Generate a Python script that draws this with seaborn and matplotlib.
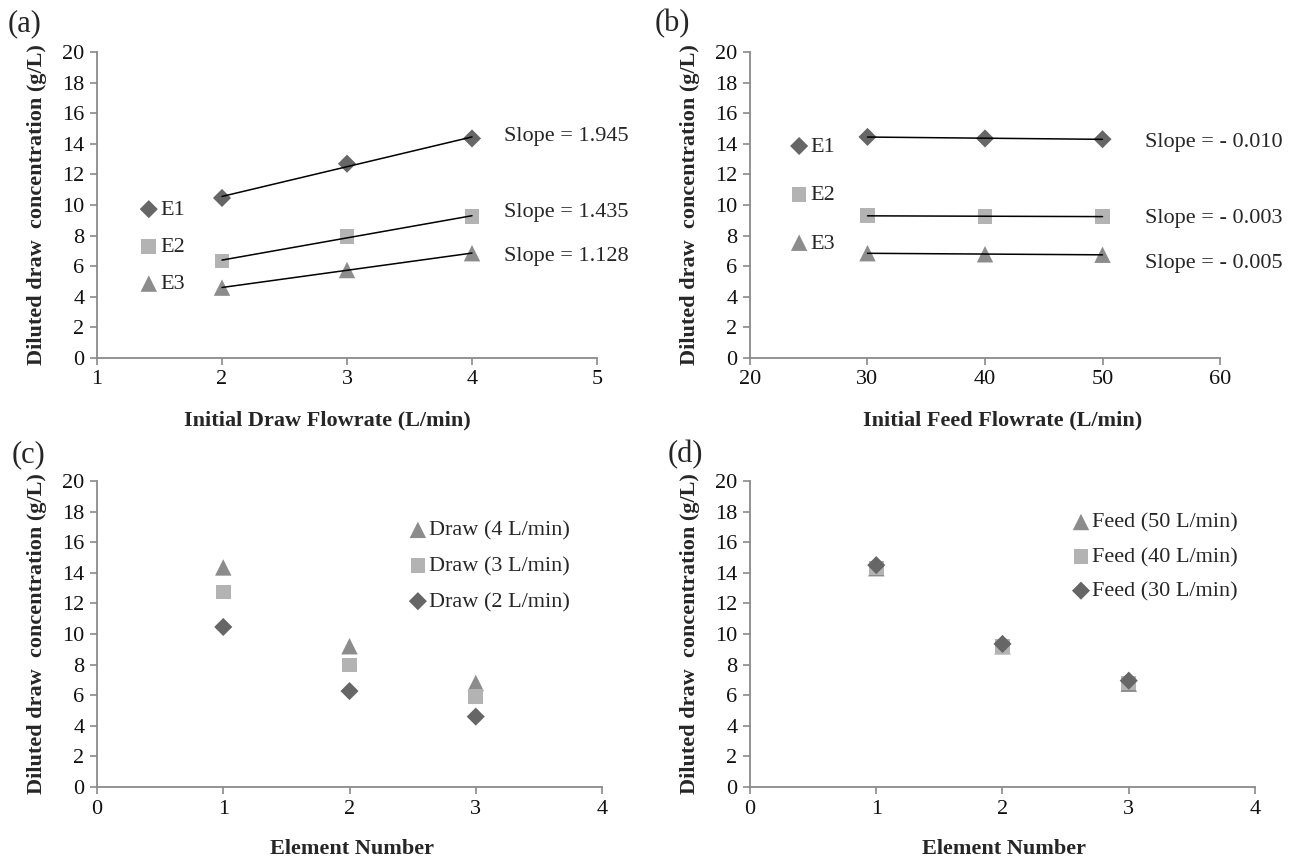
import matplotlib
matplotlib.use("Agg")
import matplotlib.pyplot as plt
import seaborn as sns

# ---- data ----
draw_flow = [2, 3, 4]
a_E1 = [10.46, 12.7, 14.35]
a_E2 = [6.35, 7.95, 9.25]
a_E3 = [4.6, 5.75, 6.85]
a_slopes = ["Slope = 1.945", "Slope = 1.435", "Slope = 1.128"]

feed_flow = [30, 40, 50]
b_E1 = [14.45, 14.35, 14.3]
b_E2 = [9.3, 9.25, 9.25]
b_E3 = [6.85, 6.78, 6.75]
b_slopes = ["Slope = - 0.010", "Slope = - 0.003", "Slope = - 0.005"]

element = [1, 2, 3]
c_draw4 = [14.35, 9.2, 6.8]
c_draw3 = [12.75, 7.97, 5.9]
c_draw2 = [10.46, 6.27, 4.6]
c_labels = ["Draw (4 L/min)", "Draw (3 L/min)", "Draw (2 L/min)"]

d_feed50 = [14.3, 9.2, 6.75]
d_feed40 = [14.3, 9.2, 6.8]
d_feed30 = [14.5, 9.35, 6.95]
d_labels = ["Feed (50 L/min)", "Feed (40 L/min)", "Feed (30 L/min)"]

yticks = list(range(0, 21, 2))

# ---- style ----
sns.set_theme(style="white")
plt.rcParams["font.family"] = ["Liberation Serif", "DejaVu Serif"]

C_DIA = "#666666"
C_SQ = "#b3b3b3"
C_TRI = "#8c8c8c"
SPINE = "#8a8a8a"
MK = {"D": dict(marker="D", s=85, color=C_DIA),
      "s": dict(marker="s", s=110, color=C_SQ),
      "^": dict(marker="^", s=140, color=C_TRI)}

fig = plt.figure(figsize=(13, 8.6), dpi=100)
W, H = 1300, 860


def make_ax(l, r, t, b):
    return fig.add_axes([l / W, 1 - b / H, (r - l) / W, (b - t) / H])


axA = make_ax(97, 597, 52, 358)
axB = make_ax(750, 1220, 52, 358)
axC = make_ax(97, 602, 481, 787)
axD = make_ax(750, 1255, 481, 787)


def style(ax, xlim, xticks, xlabel, xl_x):
    ax.set_xlim(*xlim)
    ax.set_ylim(0, 20)
    ax.set_xticks(xticks)
    ax.set_yticks(yticks)
    for s in ["top", "right"]:
        ax.spines[s].set_visible(False)
    for s in ["left", "bottom"]:
        ax.spines[s].set_color(SPINE)
        ax.spines[s].set_linewidth(1.3)
    ax.tick_params(axis="both", which="major", direction="out", length=5,
                   width=1.2, color=SPINE, labelsize=16, labelcolor="#111111",
                   left=True, bottom=True, pad=4)
    ax.set_xlabel(xlabel, fontsize=16, fontweight="bold")
    ax.set_ylabel("Diluted draw  concentration (g/L)", fontsize=16,
                  fontweight="bold")
    wpx = ax.get_position().width * W
    ax.xaxis.set_label_coords(xl_x, -0.17)
    ax.yaxis.set_label_coords(-50.0 / wpx, 0.5)
    ax.grid(False)


def scatter(ax, x, y, mk, label):
    sns.scatterplot(x=x, y=y, ax=ax, edgecolor="none", linewidth=0,
                    label=label, zorder=3, **MK[mk])


def fit(ax, x, y):
    sns.regplot(x=x, y=y, ax=ax, scatter=False, ci=None, truncate=True,
                line_kws=dict(color="black", lw=1.1, zorder=4))


LEG = dict(loc="center left", frameon=False, fontsize=16, handlelength=0.7,
           handletextpad=0.15, borderpad=0, borderaxespad=0, markerscale=1)

# (a)
for yv, mk, lab in [(a_E1, "D", "E1"), (a_E2, "s", "E2"), (a_E3, "^", "E3")]:
    scatter(axA, draw_flow, yv, mk, lab)
    fit(axA, draw_flow, yv)
style(axA, (1, 5), [1, 2, 3, 4, 5], "Initial Draw Flowrate (L/min)", 0.46)
for yv, txt in zip([14.5, 9.5, 6.65], a_slopes):
    axA.text(4.26, yv, txt, fontsize=16, va="center", ha="left")
axA.legend(bbox_to_anchor=(0.088, 0.363), labelspacing=0.75, **LEG)

# (b)
for yv, mk, lab in [(b_E1, "D", "E1"), (b_E2, "s", "E2"), (b_E3, "^", "E3")]:
    scatter(axB, feed_flow, yv, mk, lab)
    fit(axB, feed_flow, yv)
style(axB, (20, 60), [20, 30, 40, 50, 60], "Initial Feed Flowrate (L/min)", 0.538)
for yv, txt in zip([14.1, 9.15, 6.2], b_slopes):
    axB.text(53.6, yv, txt, fontsize=16, va="center", ha="left")
axB.legend(bbox_to_anchor=(0.088, 0.533), labelspacing=1.25, **LEG)

# (c)
for yv, mk, lab in [(c_draw4, "^", c_labels[0]), (c_draw3, "s", c_labels[1]),
                    (c_draw2, "D", c_labels[2])]:
    scatter(axC, element, yv, mk, lab)
style(axC, (0, 4), [0, 1, 2, 3, 4], "Element Number", 0.505)
axC.legend(bbox_to_anchor=(0.62, 0.722), labelspacing=0.68, **LEG)

# (d)
for yv, mk, lab in [(d_feed50, "^", d_labels[0]), (d_feed40, "s", d_labels[1]),
                    (d_feed30, "D", d_labels[2])]:
    scatter(axD, element, yv, mk, lab)
style(axD, (0, 4), [0, 1, 2, 3, 4], "Element Number", 0.503)
axD.legend(bbox_to_anchor=(0.64, 0.752), labelspacing=0.62, **LEG)

# panel labels
for x, y, t in [(8, 24, "(a)"), (655, 24, "(b)"), (12, 455, "(c)"), (668, 455, "(d)")]:
    fig.text(x / W, 1 - y / H, t, fontsize=22, va="center", ha="left")

fig.savefig("out.png", dpi=100, facecolor="white")
